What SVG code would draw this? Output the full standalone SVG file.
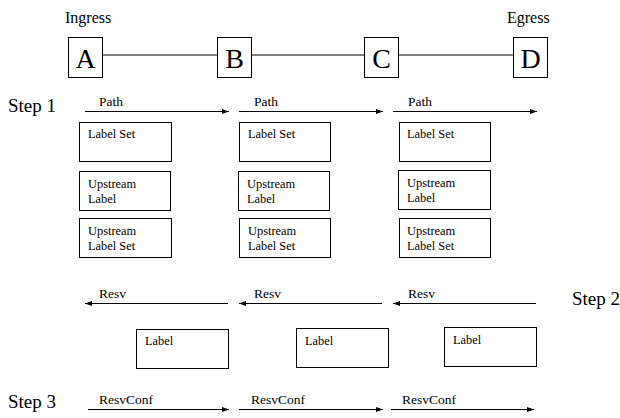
<svg xmlns="http://www.w3.org/2000/svg" width="620" height="418" viewBox="0 0 620 418" font-family="'Liberation Serif', 'DejaVu Serif', serif">
<style>
text{font-family:'Liberation Serif','DejaVu Serif',serif;fill:#000}
.big{font-size:28px}
.hdr{font-size:16px}
.step{font-size:19px}
.msg{font-size:13.5px}
.lbl{font-size:12.4px}
.node rect,.box rect{fill:#fff;stroke:#000;stroke-width:1}
.link{stroke:#000;stroke-width:1;fill:none}
.arr{stroke:#000;stroke-width:1;fill:none;marker-end:url(#ah)}
</style>
<defs>
<marker id="ah" viewBox="0 0 7 5" refX="7" refY="2.5" markerWidth="7" markerHeight="5" markerUnits="userSpaceOnUse" orient="auto">
<path d="M0,0 L7,2.5 L0,5 z" fill="#000"/>
</marker>
</defs>
<rect width="620" height="418" fill="#fff"/>
<text class="hdr" x="65" y="23">Ingress</text>
<text class="hdr" x="507" y="23">Egress</text>
<g id="links">
<line class="link" x1="102" y1="55" x2="217" y2="55"/>
<line class="link" x1="251" y1="55" x2="364" y2="55"/>
<line class="link" x1="399" y1="55" x2="513" y2="55"/>
</g>
<g id="node-A" class="node"><rect x="68.5" y="37.5" width="34" height="40"/><text class="big" x="85.5" y="68" text-anchor="middle">A</text></g>
<g id="node-B" class="node"><rect x="217.5" y="37.5" width="34" height="40"/><text class="big" x="234.5" y="68" text-anchor="middle">B</text></g>
<g id="node-C" class="node"><rect x="364.5" y="37.5" width="34" height="40"/><text class="big" x="381.5" y="68" text-anchor="middle">C</text></g>
<g id="node-D" class="node"><rect x="513.5" y="37.5" width="34" height="40"/><text class="big" x="530.5" y="68" text-anchor="middle">D</text></g>
<text class="step" x="8" y="112">Step 1</text>
<text class="step" x="572" y="305">Step 2</text>
<text class="step" x="8" y="408">Step 3</text>
<g id="connectors">
<line class="arr" x1="85" y1="111.5" x2="229" y2="111.5"/>
<line class="arr" x1="239" y1="111.5" x2="383" y2="111.5"/>
<line class="arr" x1="393" y1="111.5" x2="537" y2="111.5"/>
<line class="arr" x1="228" y1="303.5" x2="85" y2="303.5"/>
<line class="arr" x1="382" y1="303.5" x2="239" y2="303.5"/>
<line class="arr" x1="536" y1="303.5" x2="393" y2="303.5"/>
<line class="arr" x1="88" y1="409.5" x2="229" y2="409.5"/>
<line class="arr" x1="239" y1="409.5" x2="383" y2="409.5"/>
<line class="arr" x1="391" y1="409.5" x2="534" y2="409.5"/>
</g>
<g id="msg-labels">
<text class="msg" x="99" y="106">Path</text>
<text class="msg" x="254" y="106">Path</text>
<text class="msg" x="408" y="106">Path</text>
<text class="msg" x="99" y="298">Resv</text>
<text class="msg" x="254" y="298">Resv</text>
<text class="msg" x="408" y="298">Resv</text>
<text class="msg" x="99" y="404">ResvConf</text>
<text class="msg" x="251" y="404">ResvConf</text>
<text class="msg" x="402" y="404">ResvConf</text>
</g>
<g id="ls-1" class="box"><rect x="79.5" y="122.5" width="92" height="39"/><text class="lbl" x="88" y="138">Label Set</text></g>
<g id="ul-1" class="box"><rect x="79.5" y="171.5" width="91" height="39"/><text class="lbl" x="88" y="188">Upstream</text><text class="lbl" x="88" y="203">Label</text></g>
<g id="uls-1" class="box"><rect x="79.5" y="218.5" width="92" height="39"/><text class="lbl" x="88" y="235">Upstream</text><text class="lbl" x="88" y="250">Label Set</text></g>
<g id="ls-2" class="box"><rect x="239.5" y="122.5" width="91" height="39"/><text class="lbl" x="248" y="138">Label Set</text></g>
<g id="ul-2" class="box"><rect x="238.5" y="171.5" width="91" height="39"/><text class="lbl" x="247" y="188">Upstream</text><text class="lbl" x="247" y="203">Label</text></g>
<g id="uls-2" class="box"><rect x="239.5" y="218.5" width="91" height="39"/><text class="lbl" x="248" y="235">Upstream</text><text class="lbl" x="248" y="250">Label Set</text></g>
<g id="ls-3" class="box"><rect x="399.5" y="122.5" width="91" height="39"/><text class="lbl" x="407" y="138">Label Set</text></g>
<g id="ul-3" class="box"><rect x="398.5" y="170.5" width="92" height="39"/><text class="lbl" x="407" y="187">Upstream</text><text class="lbl" x="407" y="202">Label</text></g>
<g id="uls-3" class="box"><rect x="399.5" y="218.5" width="91" height="39"/><text class="lbl" x="407" y="235">Upstream</text><text class="lbl" x="407" y="250">Label Set</text></g>
<g id="lab-1" class="box"><rect x="136.5" y="329.5" width="92" height="39"/><text class="lbl" x="145" y="345">Label</text></g>
<g id="lab-2" class="box"><rect x="296.5" y="328.5" width="92" height="39"/><text class="lbl" x="305" y="345">Label</text></g>
<g id="lab-3" class="box"><rect x="444.5" y="327.5" width="92" height="39"/><text class="lbl" x="453" y="344">Label</text></g>
</svg>
